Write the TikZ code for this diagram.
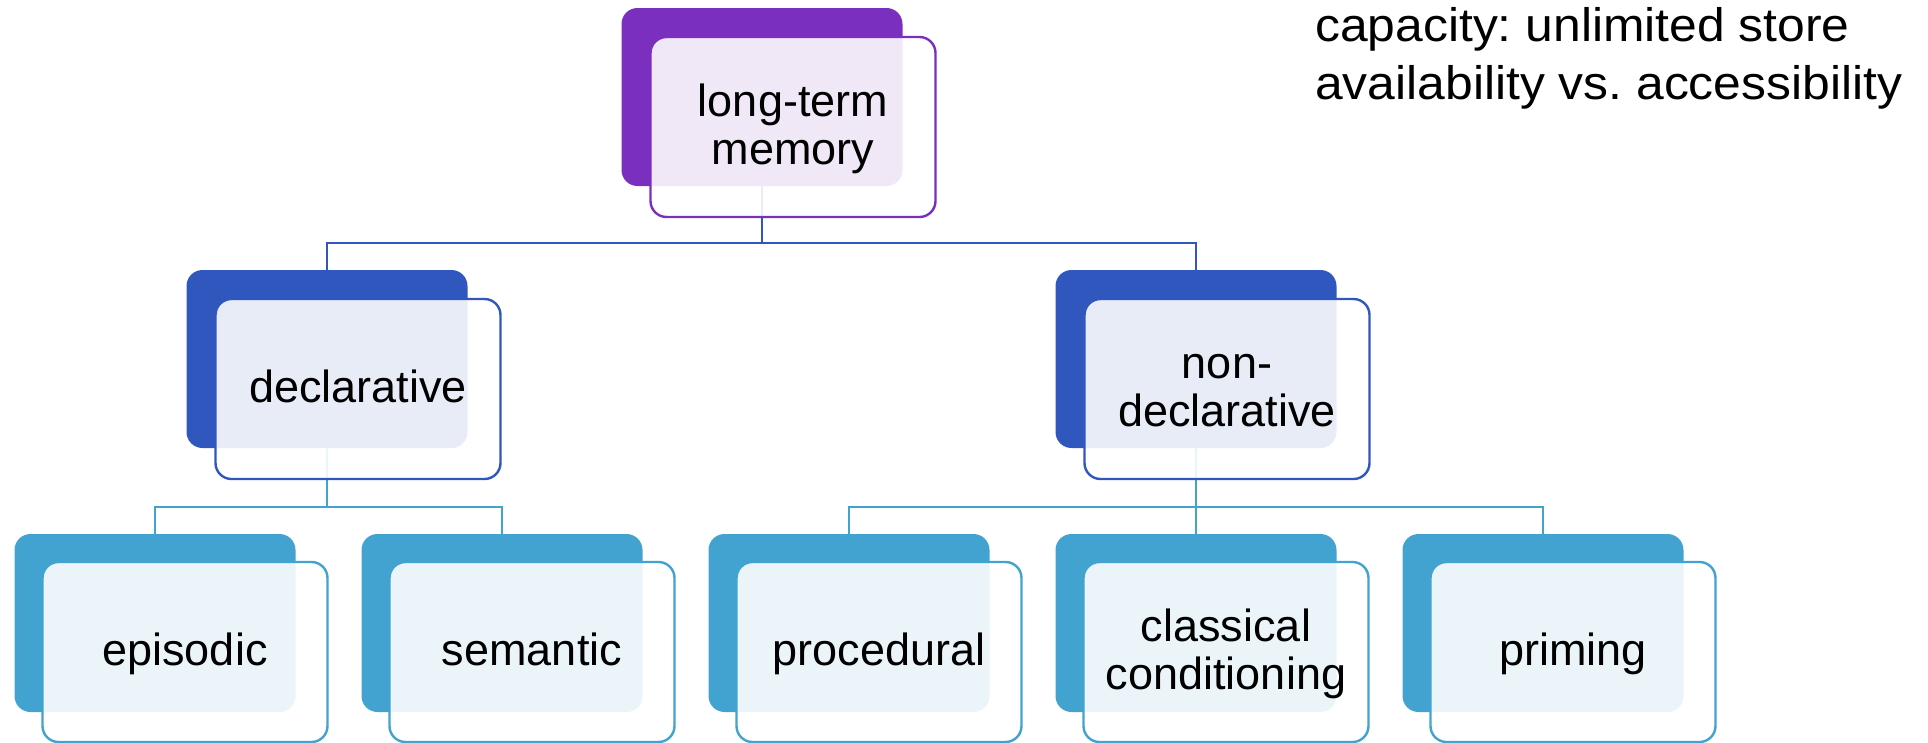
\documentclass[tikz,border=0pt]{standalone}
\usepackage{fontspec}
\setmainfont{Liberation Sans}
\newfontfamily\sidefont[FakeStretch=1.06]{Liberation Sans}
\definecolor{cpurple}{HTML}{7B2FBE}
\definecolor{cblue}{HTML}{2F57BE}
\definecolor{clight}{HTML}{43A3D0}
\newcommand\mystrut{\rule[-11pt]{0pt}{48pt}}
\begin{document}
\begin{tikzpicture}[x=1pt,y=-1pt,
 backbox/.style={rectangle, rounded corners=16pt, minimum width=281pt, minimum height=178pt, inner sep=0pt, fill=#1},
 frontbox/.style={rectangle, rounded corners=16pt, minimum width=285pt, minimum height=180pt, inner sep=0pt, draw=#1, line width=2.4pt, fill=white, fill opacity=0.89, text opacity=1, align=center, font=\fontsize{45}{48}\selectfont},
 conn/.style={draw=#1, line width=2.8pt}]
\useasboundingbox (0,0) rectangle (1928,742);
% back boxes
\node[backbox=cpurple] (ltb) at (762,97) {};
\node[backbox=cblue] (decb) at (327,359) {};
\node[backbox=cblue] (ndb) at (1196,359) {};
\node[backbox=clight] (epib) at (155,623) {};
\node[backbox=clight] (semb) at (502,623) {};
\node[backbox=clight] (procb) at (849,623) {};
\node[backbox=clight] (clasb) at (1196,623) {};
\node[backbox=clight] (primb) at (1543,623) {};
% connectors
\coordinate (bar1) at (0,243);
\coordinate (bar2) at (0,507);
\draw[conn=cblue] (ltb.south) -- (ltb.south |- bar1) -| (decb.north);
\draw[conn=cblue] (ltb.south |- bar1) -| (ndb.north);
\draw[conn=clight] (decb.south) -- (decb.south |- bar2) -| (epib.north);
\draw[conn=clight] (decb.south |- bar2) -| (semb.north);
\draw[conn=clight] (ndb.south) -- (clasb.north);
\draw[conn=clight] (ndb.south |- bar2) -| (procb.north);
\draw[conn=clight] (ndb.south |- bar2) -| (primb.north);
% front boxes
\node[frontbox=cpurple] (lt) at (793,127) {\mystrut long-term\\memory\mystrut};
\node[frontbox=cblue] (dec) at (358,389) {\mystrut declarative\mystrut};
\node[frontbox=cblue] (nd) at (1227,389) {\mystrut non-\\declarative\mystrut};
\node[frontbox=clight] (epi) at (185,652) {\mystrut episodic\mystrut};
\node[frontbox=clight] (sem) at (532,652) {\mystrut semantic\mystrut};
\node[frontbox=clight] (proc) at (879,652) {\mystrut procedural\mystrut};
\node[frontbox=clight] (clas) at (1226,652) {\mystrut classical\\conditioning\mystrut};
\node[frontbox=clight] (prim) at (1573,652) {\mystrut priming\mystrut};
% side text
\node[anchor=north west, inner sep=0pt, align=left, font=\sidefont\fontsize{47}{58}\selectfont\frenchspacing] (cap) at (1315,7) {capacity: unlimited store\\availability vs. accessibility};
\end{tikzpicture}
\end{document}
